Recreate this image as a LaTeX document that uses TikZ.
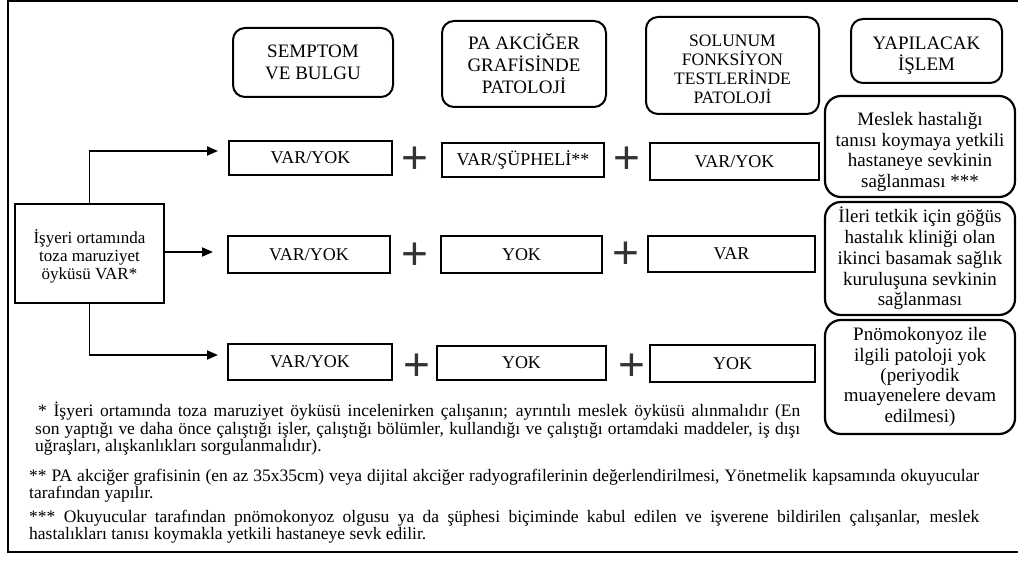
\documentclass[tikz,border=0pt]{standalone}
\usepackage{fontspec}
\setmainfont{Liberation Serif}
\newfontfamily\plusfont{Liberation Sans}
\usetikzlibrary{arrows.meta,calc}
\begin{document}
\begin{tikzpicture}[x=1pt,y=-1pt,
  hdr/.style={draw, rounded corners=12pt, line width=2pt, align=center, inner sep=0pt},
  rbox/.style={draw, line width=2.2pt, inner sep=0pt, align=center},
  res/.style={draw, rounded corners=16pt, line width=2.2pt, align=center, inner sep=0pt},
  arr/.style={line width=1.8pt, -{Triangle[length=11pt,width=9pt]}},
  plussign/.style={inner sep=0pt, text=black!80, font=\plusfont\fontsize{46}{46}\selectfont},
  hfont/.style={font=\fontsize{19}{22}\selectfont},
  rowfont/.style={font=\fontsize{18}{20}\selectfont},
  resfont/.style={font=\fontsize{19}{20.8}\selectfont},
  note/.style={anchor=base west, inner sep=0pt, font=\fontsize{17.5}{18}\selectfont}
]
\useasboundingbox (0,0) rectangle (1018,569);
\begin{scope}
\clip (0,0) rectangle (1018,569);
\draw[line width=2pt] (8,1.5) rectangle (1030,552);
\end{scope}
% headers
\node[hdr, hfont, minimum width=160pt, minimum height=69pt] (h1) at (313,62.5) {SEMPTOM\\VE BULGU};
\node[hdr, hfont, minimum width=164pt, minimum height=86pt] (h2) at (524,64) {PA AKCİĞER\\GRAFİSİNDE\\PATOLOJİ};
\node[hdr, font=\fontsize{17.5}{19}\selectfont, minimum width=173pt, minimum height=97pt] (h3) at (732.5,65.5) {\rule{0pt}{20pt}SOLUNUM\\FONKSİYON\\TESTLERİNDE\\PATOLOJİ};
\node[hdr, font=\fontsize{19}{20.5}\selectfont, minimum width=151pt, minimum height=64pt] (h4) at (926.5,51) {\rule{0pt}{22pt}YAPILACAK\\İŞLEM};
% source
\node[rbox, font=\fontsize{17}{18}\selectfont, minimum width=149pt, minimum height=99pt] (src) at (89.5,253.5) {\rule{0pt}{20pt}İşyeri ortamında\\toza maruziyet\\öyküsü VAR*};
% row 1
\node[rbox, rowfont, minimum width=163pt, minimum height=34pt] (a1) at (310.5,158) {VAR/YOK};
\node[rbox, rowfont, minimum width=162pt, minimum height=34pt] (b1) at (523,160) {VAR/ŞÜPHELİ**};
\node[rbox, rowfont, minimum width=169pt, minimum height=37pt] (c1) at (734.5,161.5) {VAR/YOK};
% row 2
\node[rbox, rowfont, minimum width=162pt, minimum height=37pt] (a2) at (309,254.5) {VAR/YOK};
\node[rbox, rowfont, minimum width=161pt, minimum height=37pt] (b2) at (521.5,254.5) {YOK};
\node[rbox, rowfont, minimum width=167pt, minimum height=36pt] (c2) at (731.5,254) {VAR};
% row 3
\node[rbox, rowfont, minimum width=164pt, minimum height=36pt] (a3) at (310,362) {VAR/YOK};
\node[rbox, rowfont, minimum width=169pt, minimum height=34pt] (b3) at (521.5,363) {YOK};
\node[rbox, rowfont, minimum width=165pt, minimum height=37pt] (c3) at (732.5,363.5) {YOK};
% plus signs
\node[plussign] (p11) at (415,160) {+};
\node[plussign] (p12) at (627,160) {+};
\node[plussign] (p21) at (415,256) {+};
\node[plussign] (p22) at (626,255) {+};
\node[plussign] (p31) at (417,367) {+};
\node[plussign] (p32) at (632,367) {+};
% results
\node[res, resfont, minimum width=190pt, minimum height=101pt] (r1) at (920,146.5) {\rule{0pt}{24pt}Meslek hastalığı\\tanısı koymaya yetkili\\hastaneye sevkinin\\sağlanması ***};
\node[res, resfont, minimum width=190pt, minimum height=113pt] (r2) at (920,258.5) {İleri tetkik için göğüs\\hastalık kliniği olan\\ikinci basamak sağlık\\kuruluşuna sevkinin\\sağlanması};
\node[res, font=\fontsize{19}{20.3}\selectfont, minimum width=190pt, minimum height=114pt] (r3) at (920,377) {Pnömokonyoz ile\\ilgili patoloji yok\\(periyodik\\muayenelere devam\\edilmesi)};
% arrows
\coordinate (t1) at (218,151);
\coordinate (t2) at (213,252);
\coordinate (t3) at (218,355);
\draw[arr] (src.north) |- (t1);
\draw[arr] (src.east |- t2) -- (t2);
\draw[arr] (src.south) |- (t3);
% notes
\node[note] (n1) at (38,417) {\makebox[762pt][s]{* İşyeri ortamında toza maruziyet öyküsü incelenirken çalışanın; ayrıntılı meslek öyküsü alınmalıdır (En}};
\node[note] (n2) at (35,434) {\makebox[765pt][s]{son yaptığı ve daha önce çalıştığı işler, çalıştığı bölümler, kullandığı ve çalıştığı ortamdaki maddeler, iş dışı}};
\node[note] (n3) at (35,451) {uğraşları, alışkanlıkları sorgulanmalıdır).};
\node[note] (n4) at (29,481) {\makebox[950pt][s]{** PA akciğer grafisinin (en az 35x35cm) veya dijital akciğer radyografilerinin değerlendirilmesi, Yönetmelik kapsamında okuyucular}};
\node[note] (n5) at (29,498) {tarafından yapılır.};
\node[note] (n6) at (29,522) {\makebox[950pt][s]{*** Okuyucular tarafından pnömokonyoz olgusu ya da şüphesi biçiminde kabul edilen ve işverene bildirilen çalışanlar, meslek}};
\node[note] (n7) at (29,539) {hastalıkları tanısı koymakla yetkili hastaneye sevk edilir.};
\end{tikzpicture}
\end{document}
